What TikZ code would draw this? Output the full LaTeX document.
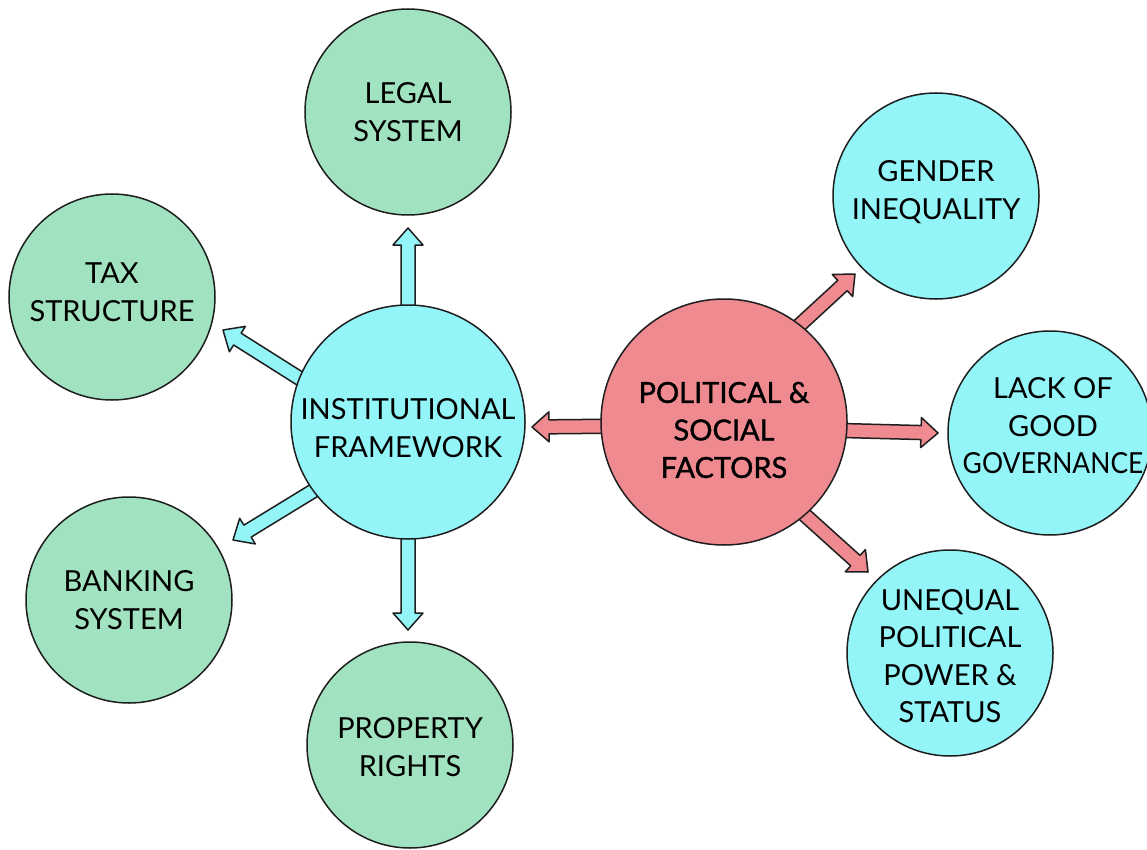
\documentclass[tikz,border=0pt]{standalone}
\usepackage{fontspec}
\setmainfont{Lato}
\newfontfamily\medfont[FakeBold=1.2]{Lato}
\usetikzlibrary{calc,backgrounds}
\definecolor{cgreen}{HTML}{A1E3C0}
\definecolor{ccyan}{HTML}{94F5F9}
\definecolor{cpink}{HTML}{F08A91}
\definecolor{cline}{HTML}{1E1E1E}
\tikzset{
  bubble/.style={circle, draw=cline, line width=1.5pt, inner sep=0pt},
  greenb/.style={bubble, fill=cgreen, minimum size=206pt},
  cyanb/.style={bubble, fill=ccyan, minimum size=206pt},
  hubcyan/.style={bubble, fill=ccyan, minimum size=234pt},
  hubpink/.style={bubble, fill=cpink, minimum size=246pt},
  txt/.style={inner sep=0pt, align=center, text=black, font=\fontsize{29}{37.5}\selectfont},
  medtxt/.style={txt, font=\fontsize{29}{37.5}\medfont},
  arrowbody/.style={draw=cline, fill=#1, line width=1.5pt, line join=round}
}
\newcommand\fatarrow[3]{%
  \path[arrowbody=#3] let \p1=(#1), \p2=(#2), \n1={atan2(\y2-\y1,\x2-\x1)} in
    ($(\p1)+(\n1+180:14pt)+(\n1+90:7pt)$) --
    ($(\p2)+(\n1+180:17pt)+(\n1+90:7pt)$) --
    ($(\p2)+(\n1+180:17pt)+(\n1+90:15pt)$) --
    (\p2) --
    ($(\p2)+(\n1+180:17pt)+(\n1-90:15pt)$) --
    ($(\p2)+(\n1+180:17pt)+(\n1-90:7pt)$) --
    ($(\p1)+(\n1+180:14pt)+(\n1-90:7pt)$) -- cycle;}
\begin{document}
\begin{tikzpicture}[x=1pt,y=-1pt]
\useasboundingbox (0,0) rectangle (1147,850);
% circles
\node[hubcyan] (inst) at (408,422) {};
\node[hubpink] (pol) at (724,422) {};
\node[greenb] (legal) at (408,112) {};
\node[greenb] (tax) at (112,297) {};
\node[greenb] (bank) at (129,600) {};
\node[greenb] (prop) at (410,745) {};
\node[cyanb] (gender) at (936,196) {};
\node[cyanb, minimum size=204pt] (lack) at (1050,433) {};
\node[cyanb] (uneq) at (950,653) {};
% texts
\node[txt] (instT) at ($(inst)+(0,6)$) {INSTITUTIONAL\\FRAMEWORK};
\node[medtxt] (polT) at ($(pol)+(0,8)$) {POLITICAL \&\\SOCIAL\\FACTORS};
\node[txt] (legalT) at (legal) {LEGAL\\SYSTEM};
\node[txt] (taxT) at ($(tax)+(0,-5)$) {TAX\\STRUCTURE};
\node[txt] (bankT) at (bank) {BANKING\\SYSTEM};
\node[txt] (propT) at ($(prop)+(0,2)$) {PROPERTY\\RIGHTS};
\node[txt] (genderT) at ($(gender)+(0,-4)$) {GENDER\\INEQUALITY};
\node[txt] (lackT) at ($(lack)+(3,-7)$) {LACK OF\\GOOD\\\scalebox{0.91}[1]{GOVERNANCE}};
\node[txt] (uneqT) at ($(uneq)+(0,3)$) {UNEQUAL\\POLITICAL\\POWER \&\\STATUS};
% arrow tips
\coordinate (tLegal) at (408,228);
\coordinate (tTax) at (223,330);
\coordinate (tBank) at (233,540);
\coordinate (tProp) at (408,630);
\coordinate (tInst) at (532,427);
\coordinate (tGender) at (855,274);
\coordinate (tLack) at (938,433);
\coordinate (tUneq) at (868,572);
\begin{pgfonlayer}{background}
  \fill[white] (0,0) rectangle (1147,850);
  \fatarrow{inst.90}{tLegal}{ccyan}
  \fatarrow{inst.158}{tTax}{ccyan}
  \fatarrow{inst.216}{tBank}{ccyan}
  \fatarrow{inst.270}{tProp}{ccyan}
  \fatarrow{pol.182}{tInst}{cpink}
  \fatarrow{pol.52}{tGender}{cpink}
  \fatarrow{pol.356}{tLack}{cpink}
  \fatarrow{pol.311}{tUneq}{cpink}
\end{pgfonlayer}
\end{tikzpicture}
\end{document}
